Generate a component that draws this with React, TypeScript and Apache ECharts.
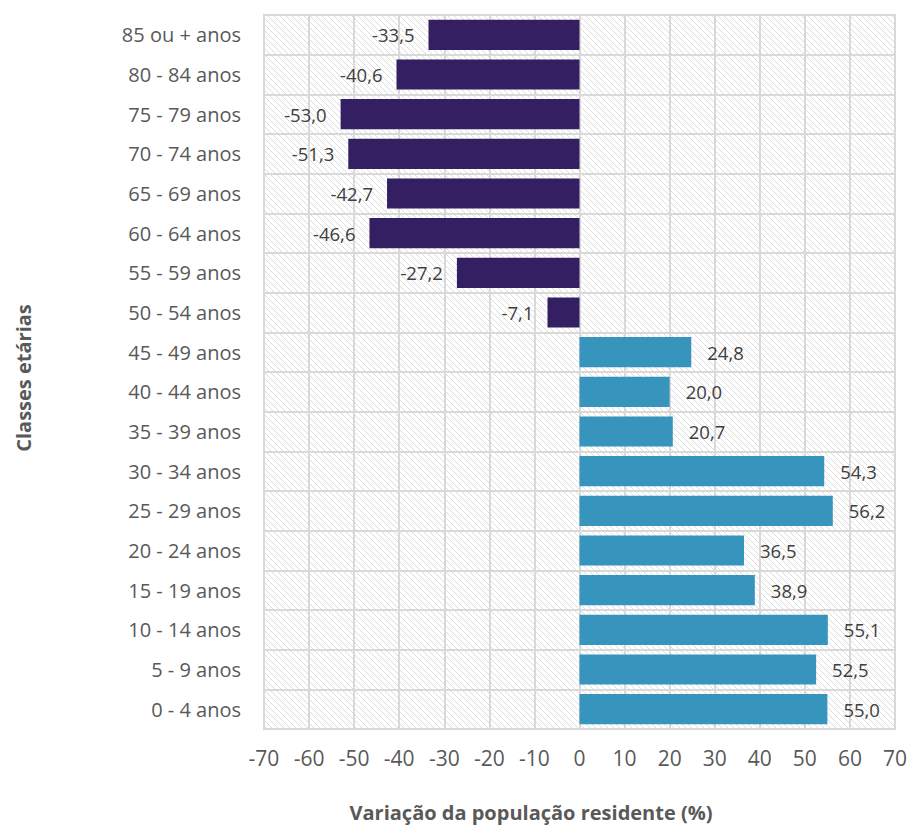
import React, { useEffect, useRef } from "react";
import * as echarts from "echarts";

const categories = [
  "0 - 4 anos", "5 - 9 anos", "10 - 14 anos", "15 - 19 anos", "20 - 24 anos",
  "25 - 29 anos", "30 - 34 anos", "35 - 39 anos", "40 - 44 anos", "45 - 49 anos",
  "50 - 54 anos", "55 - 59 anos", "60 - 64 anos", "65 - 69 anos", "70 - 74 anos",
  "75 - 79 anos", "80 - 84 anos", "85 ou + anos",
];
const values = [
  55.0, 52.5, 55.1, 38.9, 36.5, 56.2, 54.3, 20.7, 20.0, 24.8,
  -7.1, -27.2, -46.6, -42.7, -51.3, -53.0, -40.6, -33.5,
];
const xTitle = "Variação da população residente (%)";
const yTitle = "Classes etárias";

const FONT = "'Open Sans', sans-serif";

function makeHatch(): HTMLCanvasElement {
  const s = 6;
  const c = document.createElement("canvas");
  c.width = s;
  c.height = s;
  const ctx = c.getContext("2d")!;
  ctx.fillStyle = "#ffffff";
  ctx.fillRect(0, 0, s, s);
  ctx.strokeStyle = "#dcdcdc";
  ctx.lineWidth = 1;
  ctx.beginPath();
  ctx.moveTo(-1, -1);
  ctx.lineTo(s + 1, s + 1);
  ctx.moveTo(-1, s - 1);
  ctx.lineTo(1, s + 1);
  ctx.moveTo(s - 1, -1);
  ctx.lineTo(s + 1, 1);
  ctx.stroke();
  return c;
}

export default function App() {
  const ref = useRef<HTMLDivElement>(null);
  useEffect(() => {
    if (!ref.current) return;
    const chart = echarts.init(ref.current, undefined, { renderer: "svg" });
    const hatch = makeHatch();
    const fmt = (v: number) => v.toFixed(1).replace(".", ",");
    const titleStyle = {
      fontFamily: FONT,
      fontSize: 20,
      fontWeight: "bold",
      fill: "#595959",
      align: "center",
      verticalAlign: "middle",
    };
    chart.setOption({
      animation: false,
      textStyle: { fontFamily: FONT },
      grid: {
        left: 264,
        right: 13,
        top: 15,
        bottom: 98,
        show: true,
        borderColor: "#d9d9d9",
        borderWidth: 2,
        backgroundColor: { image: hatch, repeat: "repeat", imageWidth: 6, imageHeight: 6 } as any,
      },
      graphic: [
        {
          type: "text",
          x: 531,
          y: 812,
          style: { ...titleStyle, text: xTitle },
        },
        {
          type: "text",
          x: 23,
          y: 378,
          rotation: Math.PI / 2,
          style: { ...titleStyle, text: yTitle },
        },
      ],
      xAxis: {
        type: "value",
        min: -70,
        max: 70,
        interval: 10,
        axisLine: { show: false },
        axisTick: { show: false },
        axisLabel: { fontFamily: FONT, fontSize: 21, color: "#595959", margin: 18 },
        splitLine: { show: true, lineStyle: { color: "#d9d9d9", width: 2 } },
      },
      yAxis: {
        type: "category",
        data: categories,
        axisLine: { show: false },
        axisTick: { show: false },
        axisLabel: { fontFamily: FONT, fontSize: 20, color: "#595959", margin: 23 },
        splitLine: { show: true, lineStyle: { color: "#d9d9d9", width: 2 } },
      },
      series: [
        {
          type: "bar",
          barCategoryGap: "24%",
          data: values.map((v) => ({
            value: v,
            itemStyle: { color: v < 0 ? "#341f63" : "#3794bc" },
            label: {
              show: true,
              position: v < 0 ? "left" : "right",
              distance: v < 0 ? 14 : 16,
              formatter: () => fmt(v),
              fontFamily: FONT,
              fontSize: 18.5,
              color: "#404040",
            },
          })),
        },
      ],
    });
    return () => chart.dispose();
  }, []);
  return (
    <div
      ref={ref}
      style={{ position: "absolute", left: 0, top: 0, width: 910, height: 827 }}
    />
  );
}
